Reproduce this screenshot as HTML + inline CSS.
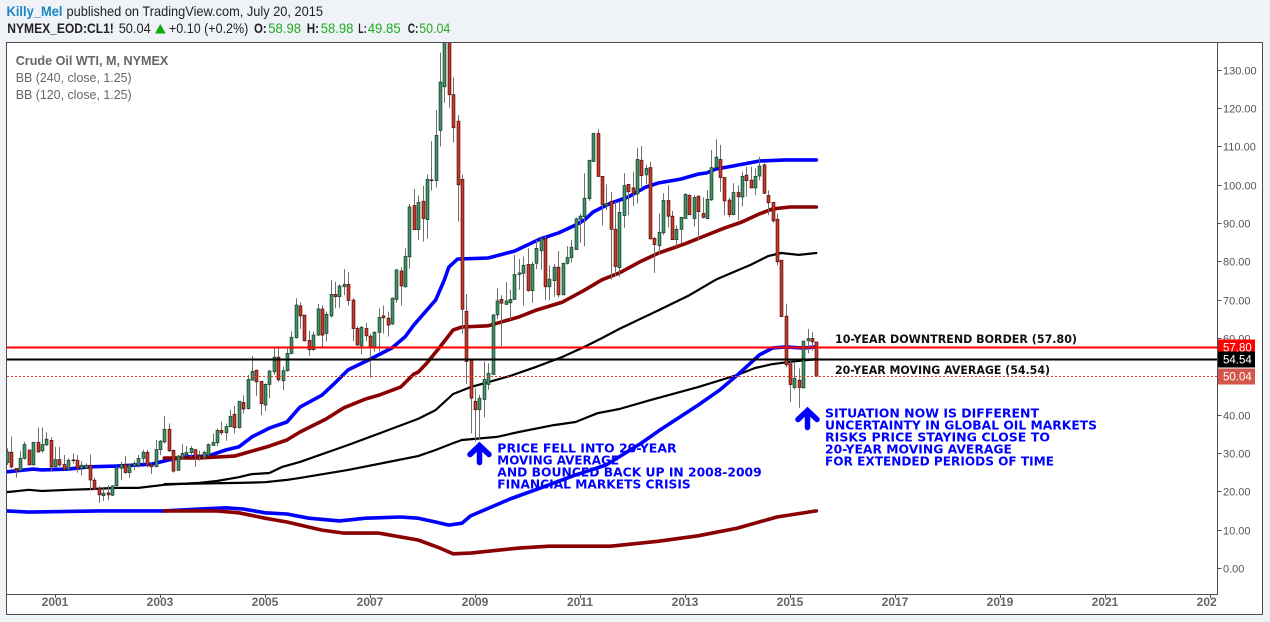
<!DOCTYPE html>
<html lang="en">
<head>
<meta charset="utf-8">
<title>Crude Oil WTI monthly chart</title>
<style>
html,body{margin:0;padding:0;background:#eff3f8;width:1270px;height:622px;overflow:hidden}
svg{display:block;font-family:"Liberation Sans",sans-serif}
.note{font-family:"DejaVu Sans",sans-serif;font-weight:bold;font-size:12px;fill:#0000ff}
.blk{font-family:"DejaVu Sans",sans-serif;font-weight:bold;font-size:11.5px;fill:#111}
.h1{font-size:14px;fill:#222}
.h2{font-size:13.5px;fill:#222}
.g{fill:#22aa22}
.lg{font-size:13px;fill:#666}
</style>
</head>
<body>
<svg id="chart" xmlns="http://www.w3.org/2000/svg" width="1270" height="622" viewBox="0 0 1270 622">
  <defs>
    <clipPath id="plot-clip"><rect x="7" y="43" width="1210.5" height="551"/></clipPath>
    <clipPath id="xlab-clip"><rect x="7" y="594" width="1210" height="20"/></clipPath>
  </defs>
  <rect x="6.5" y="42.5" width="1256" height="572" fill="#ffffff" stroke="#4d4d4d" stroke-width="1"/>

  <g>
    <text x="6.5" y="16" class="h1" font-weight="bold" style="fill:#1b86c2" textLength="56" lengthAdjust="spacingAndGlyphs">Killy_Mel</text>
    <text x="66.5" y="16" class="h1" textLength="256.5" lengthAdjust="spacingAndGlyphs">published on TradingView.com, July 20, 2015</text>
  </g>
  <g>
    <text x="7.3" y="33" class="h2" font-weight="bold" textLength="106.5" lengthAdjust="spacingAndGlyphs">NYMEX_EOD:CL1!</text>
    <text x="118.7" y="33" class="h2" textLength="32" lengthAdjust="spacingAndGlyphs">50.04</text>
    <polygon points="155,33.5 160.3,24 165.7,33.5" fill="#11a811"/>
    <text x="169" y="33" class="h2" textLength="79.3" lengthAdjust="spacingAndGlyphs">+0.10 (+0.2%)</text>
    <text x="254" y="33" class="h2" font-weight="bold" textLength="12.7" lengthAdjust="spacingAndGlyphs">O:</text>
    <text x="268.3" y="33" class="h2 g" textLength="32.7" lengthAdjust="spacingAndGlyphs">58.98</text>
    <text x="306.7" y="33" class="h2" font-weight="bold" textLength="12.3" lengthAdjust="spacingAndGlyphs">H:</text>
    <text x="320.7" y="33" class="h2 g" textLength="32.7" lengthAdjust="spacingAndGlyphs">58.98</text>
    <text x="358.3" y="33" class="h2" font-weight="bold" textLength="8.4" lengthAdjust="spacingAndGlyphs">L:</text>
    <text x="367.7" y="33" class="h2 g" textLength="33" lengthAdjust="spacingAndGlyphs">49.85</text>
    <text x="407.7" y="33" class="h2" font-weight="bold" textLength="10.6" lengthAdjust="spacingAndGlyphs">C:</text>
    <text x="419.3" y="33" class="h2 g" textLength="31" lengthAdjust="spacingAndGlyphs">50.04</text>
  </g>

  <g id="bands" clip-path="url(#plot-clip)"></g>
  <g id="candles" clip-path="url(#plot-clip)"></g>
  <g id="levels" clip-path="url(#plot-clip)"></g>

  <g>
    <text x="15.7" y="65" class="lg" font-weight="bold" textLength="152.6" lengthAdjust="spacingAndGlyphs">Crude Oil WTI, M, NYMEX</text>
    <text x="15.7" y="82" class="lg" textLength="116" lengthAdjust="spacingAndGlyphs">BB (240, close, 1.25)</text>
    <text x="15.7" y="99" class="lg" textLength="116" lengthAdjust="spacingAndGlyphs">BB (120, close, 1.25)</text>
  </g>

  <g>
    <text x="835" y="343" class="blk" textLength="242" lengthAdjust="spacingAndGlyphs">10-YEAR DOWNTREND BORDER (57.80)</text>
    <text x="835" y="374" class="blk" textLength="215" lengthAdjust="spacingAndGlyphs">20-YEAR MOVING AVERAGE (54.54)</text>
  </g>
  <g>
    <text x="497.3" y="452.7" class="note" textLength="179.4" lengthAdjust="spacingAndGlyphs">PRICE FELL INTO 20-YEAR</text>
    <text x="497.3" y="464.7" class="note" textLength="121.7" lengthAdjust="spacingAndGlyphs">MOVING AVERAGE</text>
    <text x="497.3" y="476.7" class="note" textLength="264.4" lengthAdjust="spacingAndGlyphs">AND BOUNCED BACK UP IN 2008-2009</text>
    <text x="497.3" y="488.7" class="note" textLength="193.4" lengthAdjust="spacingAndGlyphs">FINANCIAL MARKETS CRISIS</text>
  </g>
  <g>
    <text x="825" y="417.5" class="note" textLength="214" lengthAdjust="spacingAndGlyphs">SITUATION NOW IS DIFFERENT</text>
    <text x="825" y="429.5" class="note" textLength="272" lengthAdjust="spacingAndGlyphs">UNCERTAINTY IN GLOBAL OIL MARKETS</text>
    <text x="825" y="441.5" class="note" textLength="225" lengthAdjust="spacingAndGlyphs">RISKS PRICE STAYING CLOSE TO</text>
    <text x="825" y="453.5" class="note" textLength="187" lengthAdjust="spacingAndGlyphs">20-YEAR MOVING AVERAGE</text>
    <text x="825" y="465.5" class="note" textLength="229" lengthAdjust="spacingAndGlyphs">FOR EXTENDED PERIODS OF TIME</text>
  </g>
  <g fill="none" stroke="#0000ff" stroke-width="5.5" stroke-linecap="round" stroke-linejoin="miter">
    <polyline points="470,454.5 479.5,445.5 489,454.5"/>
    <line x1="479.5" y1="448" x2="479.5" y2="462.5"/>
  </g>
  <g fill="none" stroke="#0000ff" stroke-width="5.5" stroke-linecap="round" stroke-linejoin="miter">
    <polyline points="798,419.5 807.5,410.5 817,419.5"/>
    <line x1="807.5" y1="413" x2="807.5" y2="427.5"/>
  </g>

  <g id="axes">
    <line x1="1217.5" y1="43" x2="1217.5" y2="594.5" stroke="#4d4d4d"/>
    <line x1="7" y1="594.5" x2="1218" y2="594.5" stroke="#4d4d4d"/>
  </g>
  <g id="price-tags"></g>
</svg>

<script>
const SVGNS = 'http://www.w3.org/2000/svg';

// Months counted from January 2000 (1 = Feb 2000, 186 = Jul 2015)
const opens = [
27.5,30.2,26.0,25.4,28.6,30.8,26.9,32.8,30.6,32.1,
33.3,26.4,28.3,27.0,25.8,28.2,28.1,26.0,26.0,26.8,
22.9,20.8,18.9,19.6,19.0,21.5,26.0,27.0,24.9,26.7,
26.8,28.6,30.2,26.9,26.4,30.9,32.9,36.2,30.7,25.5,
28.9,29.6,30.1,30.9,29.5,28.8,29.5,32.0,32.7,35.9,
35.3,36.9,40.1,36.6,43.2,41.6,49.0,51.6,48.7,42.5,
47.9,51.2,55.0,48.9,51.5,56.0,60.1,68.4,66.0,59.4,
57.0,60.8,67.6,61.2,65.8,71.4,70.8,73.4,74.0,69.9,
62.5,58.0,62.5,60.5,57.5,61.5,65.8,65.2,63.7,70.1,
77.5,73.4,81.2,94.6,88.3,95.7,90.9,101.3,101.1,114.2,
125.6,140.0,123.5,116.6,101.4,67.0,54.2,43.5,41.3,44.0,
47.9,50.5,66.1,70.1,68.8,69.2,70.1,76.6,76.9,79.2,
72.4,79.5,82.8,85.9,73.4,75.0,78.5,71.3,79.5,81.0,
83.1,91.0,91.7,96.4,106.1,113.4,102.2,94.6,95.7,88.4,
78.4,92.0,100.1,99.2,97.6,106.4,102.6,104.5,86.0,84.1,
87.5,95.9,91.8,85.7,88.4,91.2,97.2,91.2,97.0,92.5,
91.2,96.1,104.5,106.6,101.9,96.0,92.2,98.0,96.8,102.5,
101.2,99.2,102.3,105.2,97.2,95.4,91.0,80.3,65.7,53.3,
47.1,49.0,47.0,59.3,59.9,58.98];
const highs = [
31.2,34.3,26.0,30.5,32.9,30.8,32.9,36.7,36.7,35.4,
34.1,31.6,31.6,29.5,28.6,29.9,29.5,27.9,27.3,29.6,
23.6,21.4,20.8,21.6,21.6,26.4,27.7,29.2,27.3,28.0,
29.5,30.9,30.8,27.3,33.4,33.4,39.6,37.7,30.9,29.5,
32.3,31.8,31.8,30.9,30.6,30.6,32.5,35.1,36.4,38.2,
37.7,41.4,42.3,43.5,45.1,50.4,55.3,51.8,48.7,48.2,
51.6,57.6,57.9,52.5,57.3,61.8,70.4,69.3,66.0,61.9,
61.7,68.9,68.6,66.9,75.2,74.7,74.0,78.0,77.2,70.4,
63.1,63.2,64.0,61.2,61.8,67.8,68.5,66.9,70.6,78.0,
78.5,83.4,95.0,98.9,97.2,99.7,102.7,111.4,119.5,134.5,
140.0,147.0,128.0,118.2,102.6,71.5,54.2,46.9,45.2,53.9,
53.4,66.3,73.0,71.2,74.6,72.7,81.7,80.6,81.3,83.4,
79.9,85.6,86.6,86.9,79.0,79.3,82.7,79.7,84.0,85.6,
91.4,92.4,103.0,106.4,113.6,114.5,102.2,100.1,98.2,95.6,
95.6,103.0,100.1,103.4,109.7,110.1,105.2,106.0,86.4,92.5,
97.8,99.9,93.2,89.5,91.7,97.8,97.6,97.3,97.3,96.7,
98.6,109.1,111.9,110.4,101.9,96.6,100.4,99.9,103.4,104.7,
104.7,104.3,107.3,105.6,98.5,95.6,92.5,80.3,69.0,54.3,
53.8,52.1,59.3,62.4,61.5,58.98];
const lows = [
26.9,26.0,23.6,25.4,28.3,26.9,26.9,30.1,30.1,31.8,
25.1,26.4,26.4,25.5,25.4,27.3,24.9,24.2,25.8,20.3,
20.3,17.0,17.5,17.7,18.8,21.5,22.9,24.5,23.6,25.5,
26.2,27.3,26.2,24.5,26.4,29.5,32.5,30.3,24.9,25.4,
28.2,29.5,29.0,26.4,28.0,28.2,29.2,32.0,31.8,34.7,
33.2,36.7,35.1,36.4,40.3,41.4,48.9,44.9,39.9,41.0,
44.3,50.4,48.6,46.4,51.2,55.8,59.9,62.4,59.1,55.4,
56.7,60.6,57.3,59.1,65.3,67.8,67.9,71.2,68.5,59.2,
58.0,55.8,59.2,49.7,56.5,56.5,61.2,60.4,63.4,69.2,
68.5,73.2,78.1,88.3,85.6,85.2,85.9,98.5,99.3,110.0,
121.4,120.1,111.0,90.4,61.2,48.0,35.1,33.0,33.4,39.3,
46.5,50.5,64.9,57.9,68.6,64.7,69.9,72.6,68.5,72.1,
69.2,78.0,77.8,69.9,69.9,70.8,70.6,71.2,79.2,79.7,
83.0,84.9,84.0,95.8,106.0,102.1,89.4,93.4,75.3,76.2,
76.0,88.8,92.1,94.5,95.1,99.0,100.2,85.8,77.0,81.7,
86.9,88.9,85.6,83.7,84.7,91.1,92.1,89.1,85.4,91.2,
91.0,95.8,104.5,98.2,92.1,91.5,92.1,90.8,94.3,96.9,
99.1,97.3,101.2,97.6,92.1,90.1,79.0,65.6,52.4,43.3,
46.6,41.8,46.9,56.0,56.7,49.85];
const closes = [
30.3,26.4,25.4,28.6,32.2,26.9,32.8,30.3,32.2,33.6,
26.4,28.3,26.9,25.8,28.1,28.0,26.0,26.8,26.8,23.0,
20.6,19.1,19.5,19.1,21.4,26.0,27.0,24.9,26.8,27.3,
28.6,30.2,26.8,26.4,30.9,33.1,36.2,30.6,25.3,29.2,
29.9,30.2,31.2,28.9,29.2,30.2,32.2,32.8,35.9,35.3,
36.9,39.6,36.6,43.5,41.5,49.2,51.3,48.6,42.9,47.9,
51.4,55.0,49.1,51.5,56.0,60.2,68.6,65.8,59.3,57.0,
60.8,67.6,60.8,66.2,71.4,70.8,73.6,74.0,69.8,62.5,
58.2,62.8,60.6,57.7,61.5,65.4,65.3,63.4,70.4,77.8,
73.6,81.3,94.2,88.3,95.4,91.2,101.4,101.1,112.9,126.8,
140.0,123.5,114.9,100.0,67.5,53.9,44.3,41.3,44.3,49.2,
50.8,66.0,69.7,69.1,69.7,70.1,76.6,77.0,79.0,72.4,
79.2,83.4,85.9,73.4,75.4,78.5,71.3,79.5,81.0,83.7,
91.1,91.8,96.5,106.4,113.4,102.2,94.8,95.1,88.4,78.7,
92.8,99.8,98.2,97.8,106.6,102.4,104.3,85.9,84.4,87.6,
95.9,91.8,85.7,88.4,91.5,97.5,92.2,96.7,93.0,91.5,
96.2,104.5,107.2,101.9,95.8,92.2,98.0,96.9,102.2,101.1,
99.2,102.2,104.9,97.8,95.3,90.6,79.9,65.6,53.0,47.9,
49.5,47.1,59.2,59.9,59.0,50.04];

// Band series: month index and value pairs
const upperBlueMonths = [1,7,9,15,20,26,34,38,42,47,51,54,57,61,65,68,73,76,79,84,89,92,94,99,101,102,104,111,117,123,127,131,133,135,139,143,147,150,155,159,161,163,167,173,179,186];
const upperBlueValues = [25.1,25.8,25.6,25.8,26.4,26.6,27.1,28.2,29.0,29.2,30.8,31.6,34.2,36.5,38.1,42.0,45.1,48.3,51.7,54.5,57.4,60.3,63.4,69.9,75.2,78.5,80.6,80.9,82.7,85.9,87.4,89.5,90.8,92.9,95.2,96.8,99.4,100.5,101.5,102.8,103.1,104.1,104.9,106.2,106.5,106.5];
const upperRedMonths = [37,45,53,57,61,65,68,74,78,83,86,91,94,95,97,100,103,105,111,118,122,128,133,137,141,146,150,156,161,165,169,173,176,180,186];
const upperRedValues = [28.7,28.7,29.2,30.5,31.8,33.4,35.5,38.9,41.8,44.1,45.1,47.2,50.6,51.1,53.5,57.7,62.1,62.9,63.2,65.5,67.3,69.4,72.5,75.2,77.0,80.1,82.2,84.6,86.9,88.7,90.3,92.4,93.7,94.2,94.2];
const basisOneMonths = [1,6,9,15,20,26,31,37,45,49,54,57,61,64,68,79,87,95,99,103,107,116,122,128,133,137,141,150,157,163,167,171,175,178,182,186];
const basisOneValues = [19.8,20.4,20.1,20.4,20.6,20.9,20.9,21.7,22.2,22.7,23.7,24.5,24.8,26.4,27.7,32.1,35.5,38.9,41.2,45.4,47.2,50.1,52.5,55.1,57.7,60.0,62.4,67.3,71.2,75.2,77.2,79.1,81.4,82.2,81.7,82.2];
const basisTwoMonths = [37,54,60,65,68,79,87,95,99,103,105,113,118,126,131,136,141,148,159,168,172,176,180,186];
const basisTwoValues = [21.9,22.2,22.4,23.0,23.5,25.6,27.4,29.2,30.8,32.6,33.4,34.2,35.5,37.3,38.1,40.4,41.5,43.8,47.2,50.4,52.2,53.2,53.8,54.5];
const lowerBlueMonths = [1,6,22,37,45,51,55,60,65,70,77,83,91,95,99,102,105,107,116,123,131,138,146,150,159,164,168,173,176,179,183,186];
const lowerBlueValues = [14.9,14.6,14.9,14.9,15.4,15.7,15.4,14.4,14.1,13.0,12.3,13.0,13.3,13.0,12.0,11.2,11.7,13.6,18.0,20.9,24.3,26.9,32.6,35.8,42.5,46.5,50.4,55.6,57.4,57.7,57.4,57.7];
const lowerRedMonths = [37,49,54,60,65,73,78,86,95,100,103,107,118,125,139,150,159,168,177,186];
const lowerRedValues = [14.9,14.9,14.4,13.0,12.0,9.9,9.1,9.1,7.3,5.2,3.7,3.9,5.2,5.7,5.7,7.0,8.4,10.4,13.3,14.9];

const yTickValues = [0,10,20,30,40,50,60,70,80,90,100,110,120,130];
const xTickYears = [2001,2003,2005,2007,2009,2011,2013,2015,2017,2019,2021,2023];
const downtrendLevel = 57.80;
const averageLevel = 54.54;
const lastPrice = 50.04;

function xScale(month) { return 6.9 + (month - 1) * 4.375; }
function yScale(price) { return 568 - price * 3.832; }
function yearToMonth(year) { return (year - 2000) * 12; }

function make(tag, attrs, parent) {
  const el = document.createElementNS(SVGNS, tag);
  for (const k in attrs) el.setAttribute(k, attrs[k]);
  parent.appendChild(el);
  return el;
}

const bandsLayer = document.getElementById('bands');
function drawBand(name, months, values, colour, width) {
  const pts = months.map((m, i) => xScale(m).toFixed(1) + ',' + yScale(values[i]).toFixed(1)).join(' ');
  const el = make('polyline', {points: pts, fill: 'none', stroke: colour, 'stroke-width': width, 'stroke-linejoin': 'round', 'stroke-linecap': 'round'}, bandsLayer);
  
  
}
drawBand('bb-120-basis-line', basisTwoMonths, basisTwoValues, '#000000', 2.2);
drawBand('bb-240-basis-line', basisOneMonths, basisOneValues, '#000000', 2.2);
drawBand('bb-lower-band-blue', lowerBlueMonths, lowerBlueValues, '#0000ff', 3.6);
drawBand('bb-lower-band-red', lowerRedMonths, lowerRedValues, '#8b0000', 3.6);
drawBand('bb-upper-band-blue', upperBlueMonths, upperBlueValues, '#0000ff', 3.6);
drawBand('bb-upper-band-red', upperRedMonths, upperRedValues, '#8b0000', 3.6);

const candlesLayer = document.getElementById('candles');
opens.forEach(function (open, i) {
  const month = i + 1;
  const close = closes[i];
  const up = close >= open;
  const cx = Math.round(xScale(month)) + 0.5;
  const top = yScale(Math.max(open, close));
  const bot = yScale(Math.min(open, close));
  const wick = make('line', {x1: cx, x2: cx, y1: yScale(highs[i]).toFixed(1), y2: yScale(lows[i]).toFixed(1), stroke: '#707070', 'stroke-width': 1}, candlesLayer);
  
  
  const body = make('rect', {x: cx - 1.4, y: top.toFixed(1), width: 2.8, height: Math.max(bot - top, 0.6).toFixed(1), fill: up ? '#3f9468' : '#c93a2a', stroke: up ? '#1f4430' : '#5a1412', 'stroke-width': 0.8}, candlesLayer);
  
  
});

const levelsLayer = document.getElementById('levels');
function levelLine(name, price, colour, width, opacity, dash) {
  const y = Math.round(yScale(price)) + 0.5;
  const attrs = {x1: 7, x2: 1217, y1: y, y2: y, stroke: colour, 'stroke-width': width, 'stroke-opacity': opacity};
  if (dash) attrs['stroke-dasharray'] = dash;
  const el = make('line', attrs, levelsLayer);
  
  
}
levelLine('downtrend-level-halo', downtrendLevel, '#ff0000', 3, 0.35);
levelLine('downtrend-level-line', downtrendLevel, '#ff0000', 1.5, 1);
levelLine('moving-average-level-halo', averageLevel, '#000000', 3, 0.35);
levelLine('moving-average-level-line', averageLevel, '#000000', 1.5, 1);
levelLine('last-price-line', lastPrice, '#e03a2a', 1, 1, '2 2');

const axesLayer = document.getElementById('axes');
yTickValues.forEach(function (v) {
  const y = Math.round(yScale(v)) + 0.5;
  const tick = make('line', {x1: 1218, x2: 1221.5, y1: y, y2: y, stroke: '#4d4d4d'}, axesLayer);
  
  
  const label = make('text', {x: 1223, y: y + 4, 'font-size': 11, fill: '#555555'}, axesLayer);
  label.textContent = v.toFixed(2);
  
  
});
const xLabelGroup = make('g', {'clip-path': 'url(#xlab-clip)'}, axesLayer);


xTickYears.forEach(function (yr) {
  const x = xScale(yearToMonth(yr));
  const tick = make('line', {x1: Math.round(x) + 0.5, x2: Math.round(x) + 0.5, y1: 595, y2: 598, stroke: '#4d4d4d'}, axesLayer);
  
  
  const label = make('text', {x: x.toFixed(1), y: 606, 'font-size': 12, 'font-weight': 'bold', 'text-anchor': 'middle', fill: '#666666'}, xLabelGroup);
  label.textContent = String(yr);
  
  
});

const tagsLayer = document.getElementById('price-tags');
function priceTag(name, price, colour) {
  const yc = Math.round(yScale(price)) + 0.5;
  const box = make('rect', {x: 1218, y: yc - 8, width: 37, height: 16, fill: colour}, tagsLayer);
  
  
  const txt = make('text', {x: 1223, y: yc + 4, 'font-size': 11.5, fill: '#ffffff'}, tagsLayer);
  txt.textContent = price.toFixed(2);
  
  
}
priceTag('downtrend-price-tag', downtrendLevel, '#ff0000');
priceTag('moving-average-price-tag', averageLevel, '#000000');
priceTag('last-price-tag', lastPrice, '#d2574a');
</script>
</body>
</html>
